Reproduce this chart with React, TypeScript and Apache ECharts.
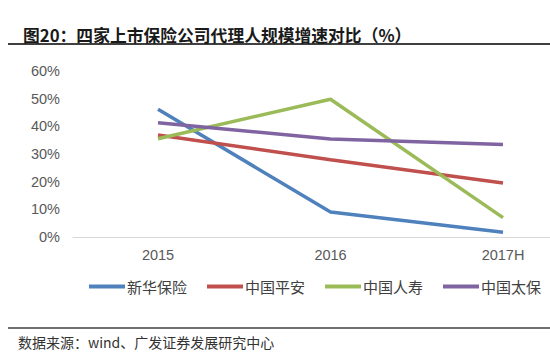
import React, { useEffect, useRef } from "react";
import * as echarts from "echarts";

const categories = ["2015", "2016", "2017H"];
const seriesNames = ["新华保险", "中国平安", "中国人寿", "中国太保"];
const xinhua = [46.2, 9.0, 1.7];
const pingan = [36.9, 27.9, 19.5];
const renshou = [35.5, 49.8, 7.0];
const taibao = [41.3, 35.4, 33.4];
const colors = ["#4F81BD", "#C0504D", "#9BBB59", "#8064A2"];
const yTicks = { min: 0, max: 60, interval: 10 };
const titleText = "图20：四家上市保险公司代理人规模增速对比（%）";
const sourceText = "数据来源：wind、广发证券发展研究中心";

export default function App() {
  const ref = useRef<HTMLDivElement>(null);
  useEffect(() => {
    document.body.style.margin = "0";
    const chart = echarts.init(ref.current!, null, { renderer: "svg" });
    const values = [xinhua, pingan, renshou, taibao];
    const font = "'Liberation Sans', Arial, 'Noto Sans CJK SC', sans-serif";
    chart.setOption({
      animation: false,
      backgroundColor: "#ffffff",
      title: {
        text: titleText,
        left: 18,
        top: 22,
        textStyle: {
          fontSize: 16.8,
          fontWeight: "bold",
          color: "#1a1a1a",
          fontFamily: "'Noto Sans CJK SC', sans-serif",
        },
      },
      graphic: [
        { type: "line", shape: { x1: 8, y1: 44, x2: 550, y2: 44 }, style: { stroke: "#404040", lineWidth: 2 } },
        { type: "line", shape: { x1: 8, y1: 328, x2: 550, y2: 328 }, style: { stroke: "#404040", lineWidth: 1.5 } },
        {
          type: "text",
          left: 18,
          top: 335,
          style: { text: sourceText, fontSize: 14, fill: "#333", fontFamily: "'Noto Sans CJK SC', sans-serif" },
        },
      ],
      legend: {
        data: seriesNames,
        left: 89,
        top: 279,
        width: 461,
        padding: 0,
        icon: "rect",
        itemWidth: 36,
        itemHeight: 4,
        itemGap: 20,
        textStyle: { fontSize: 15, color: "#404040", padding: [0, 0, 0, -3], fontFamily: "'Noto Sans CJK SC', sans-serif" },
      },
      grid: [
        { left: 73, right: 0, top: 71, bottom: 119 },
        { left: 158, right: 47, top: 71, bottom: 119 },
      ],
      xAxis: [
        {
          type: "value",
          gridIndex: 0,
          min: 0,
          max: 1,
          axisLine: { show: true, lineStyle: { color: "#d9d9d9", width: 1 } },
          axisTick: { show: false },
          axisLabel: { show: false },
          splitLine: { show: false },
        },
        {
          type: "category",
          gridIndex: 1,
          data: categories,
          boundaryGap: false,
          axisLine: { show: false },
          axisTick: { show: false },
          axisLabel: { color: "#595959", fontSize: 14.5, margin: 11, fontFamily: font },
          splitLine: { show: false },
        },
      ],
      yAxis: [
        {
          type: "value",
          gridIndex: 0,
          ...yTicks,
          axisLine: { show: false },
          axisTick: { show: false },
          splitLine: { show: false },
          axisLabel: { formatter: "{value}%", color: "#595959", fontSize: 14.5, margin: 13, fontFamily: font },
        },
        {
          type: "value",
          gridIndex: 1,
          ...yTicks,
          show: false,
          splitLine: { show: false },
        },
      ],
      series: seriesNames.map((name, i) => ({
        name,
        type: "line",
        xAxisIndex: 1,
        yAxisIndex: 1,
        data: values[i],
        symbol: "none",
        lineStyle: { color: colors[i], width: 3.5 },
        itemStyle: { color: colors[i] },
      })),
    });
    return () => chart.dispose();
  }, []);
  return <div ref={ref} style={{ width: 550, height: 356 }} />;
}
